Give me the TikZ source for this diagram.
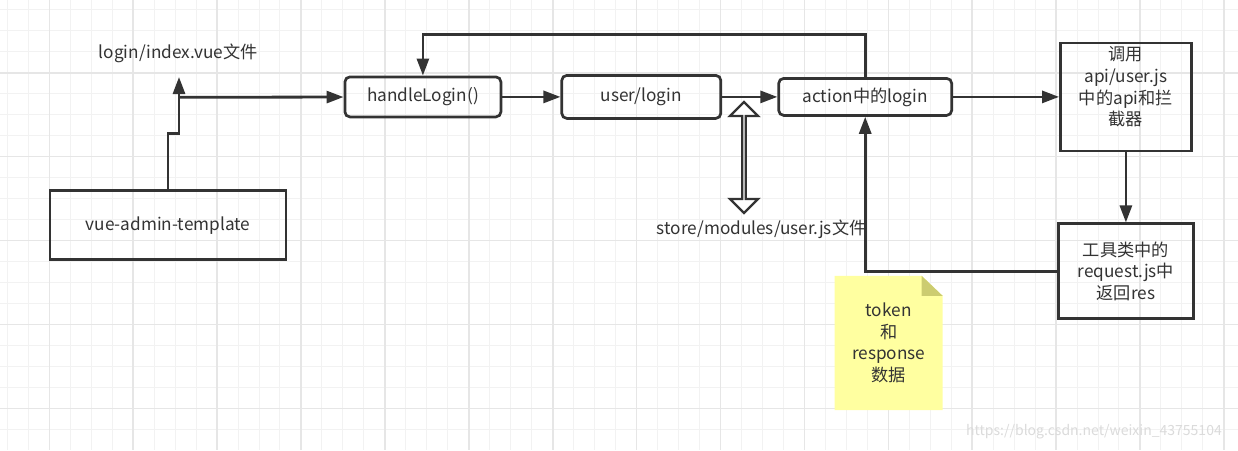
\documentclass[tikz,border=0pt]{standalone}
\usepackage{fontspec}
\setmainfont{Noto Sans CJK SC}
\usetikzlibrary{positioning, arrows.meta, shapes.arrows}
\definecolor{ink}{HTML}{333333}
\definecolor{gridminor}{HTML}{F2F2F2}
\definecolor{gridmajor}{HTML}{E6E6E6}
\definecolor{notefill}{RGB}{255,255,160}
\definecolor{notefold}{RGB}{204,204,112}

\begin{document}
\begin{tikzpicture}[x=1pt, y=-1pt, node distance=220pt, font=\fontsize{17.2}{21.7}\selectfont]
        \tikzstyle{box} = [rectangle, rounded corners=5pt, inner sep=0pt, draw=ink, line width=2.7pt, text=ink, align=center]
        \tikzstyle{sqbox} = [rectangle, inner sep=0pt, draw=ink, line width=2.7pt, text=ink, align=center]
        \tikzstyle{lbl} = [inner sep=0pt, text=ink, align=center]
        \tikzstyle{arrow} = [draw=ink, line width=2.8pt, ->, >={Triangle[length=17pt, width=12pt]}]
        \tikzstyle{minorgrid} = [draw=gridminor, line width=1pt]
        \tikzstyle{majorgrid} = [draw=gridmajor, line width=1.6pt]

        % background and grid
        \fill[white] (0,0) rectangle (1238,450);
        \useasboundingbox (0,0) rectangle (1238,450);
        \foreach \i in {0,...,58} \draw[minorgrid] ({7.3+20.975*\i},0) -- ++(0,450);
        \foreach \j in {0,...,20} \draw[minorgrid] (0,{9.8+20.975*\j}) -- ++(1238,0);
        \foreach \i in {0,...,14} \draw[majorgrid] ({49.3+83.9*\i},0) -- ++(0,450);
        \foreach \j in {0,...,4} \draw[majorgrid] (0,{72.7+83.9*\j}) -- ++(1238,0);

        \node (vue) [sqbox, minimum width=236pt, minimum height=69pt] at (168,225.3) {vue-admin-template};
        \node (index) [lbl] at (178.3,53.3) {login/index.vue文件};
        \node (handle) [box, minimum width=156pt, minimum height=40pt] at (422.9,96.9) {handleLogin()};
        \node (user) [box, right of=handle, xshift=-1.6pt, minimum width=159pt, minimum height=43pt] {user/login};
        \node (action) [box, right of=user, xshift=3.9pt, minimum width=173pt, minimum height=37pt] {action中的login};
        \node (api) [sqbox, right of=action, xshift=40.7pt, minimum width=131pt, minimum height=108pt] {};
        \node (apitext) [lbl] at ([yshift=10pt]api.center) {调用\\api/user.js\\中的api和拦\\截器};
        \node (request) [sqbox, below of=api, yshift=45.6pt, minimum width=135pt, minimum height=95pt] {工具类中的\\request.js中\\返回res};
        \node (store) [lbl] at (761.7,229) {store/modules/user.js文件};
        \node (storearrow) [double arrow, rotate=90, draw=ink, fill=white, line width=2.3pt, inner sep=0pt, minimum height=111pt, minimum width=28pt, double arrow head extend=8pt] at (744,157.5) {};

        % note
        \node (note) [minimum width=107.6pt, minimum height=134pt, inner sep=0pt] at (888.6,343) {};
        \fill[notefill] (note.north west) -- ([xshift=-21pt]note.north east) -- ([yshift=-20pt]note.north east) -- (note.south east) -- (note.south west) -- cycle;
        \fill[notefold] ([xshift=-21pt]note.north east) -- ([xshift=-21pt, yshift=-20pt]note.north east) -- ([yshift=-20pt]note.north east) -- cycle;
        \node (notetext) [lbl] at (note.center) {token\\和\\response\\数据};

        \coordinate (jog) at (179,133.3);
        \coordinate (tip) at (179,77);
        \coordinate (fork) at (179,97.3);

        \draw [arrow] (vue.north) |- (jog) -- (tip);
        \draw [arrow] (fork) -- (handle);
        \draw [arrow] (handle) -- (user);
        \draw [arrow] (user) -- (action);
        \draw [arrow] (action.north) -- ++(0,-42.5) -| (handle.north);
        \draw [arrow] (action) -- (api);
        \draw [arrow] (api) -- (request);
        \draw [arrow] (request.west) -| (action.south);

        \node (mark) [text=gray!28, font=\fontsize{14}{16}\selectfont] at (1094,432) {https://blog.csdn.net/weixin\_43755104};
    \end{tikzpicture}
\end{document}
